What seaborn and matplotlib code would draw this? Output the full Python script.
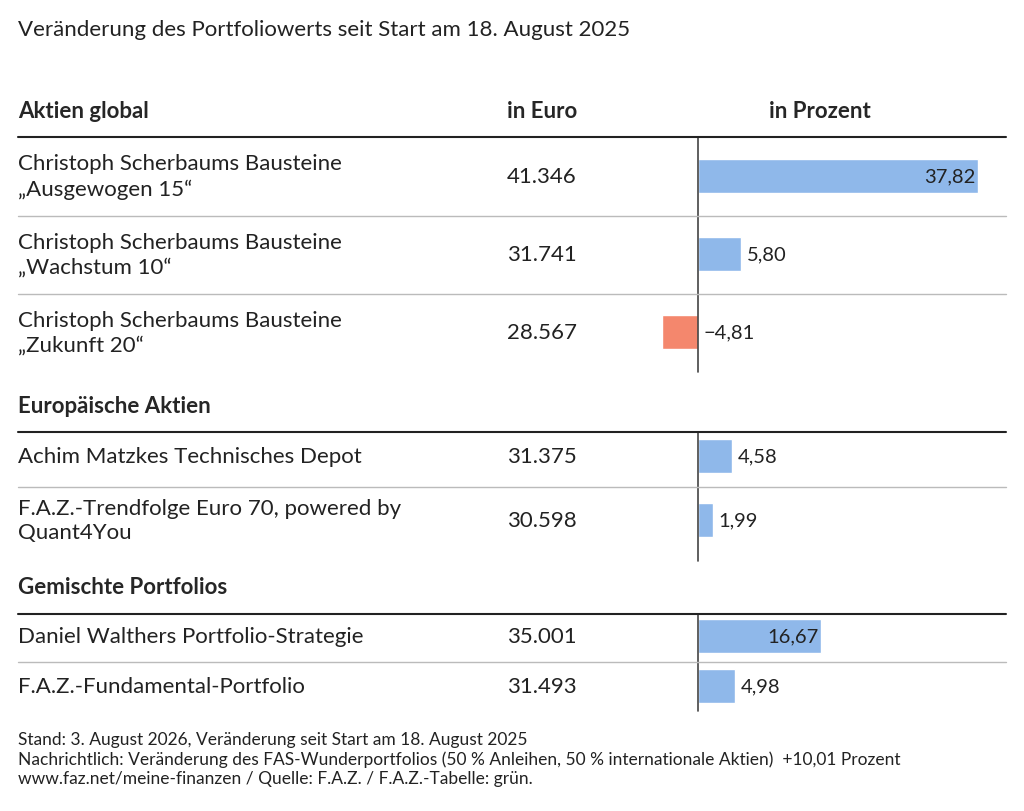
import numpy as np
import pandas as pd
import seaborn as sns
import matplotlib.pyplot as plt

sns.set_theme(style="white")
plt.rcParams['font.family'] = ['Lato', 'DejaVu Sans']

W, H = 1024, 812

# data
groups = ["Aktien global", "Europäische Aktien", "Gemischte Portfolios"]
names = ["Christoph Scherbaums Bausteine\n„Ausgewogen 15“",
         "Christoph Scherbaums Bausteine\n„Wachstum 10“",
         "Christoph Scherbaums Bausteine\n„Zukunft 20“",
         "Achim Matzkes Technisches Depot",
         "F.A.Z.-Trendfolge Euro 70, powered by\nQuant4You",
         "Daniel Walthers Portfolio-Strategie",
         "F.A.Z.-Fundamental-Portfolio"]
euro = ["41.346", "31.741", "28.567", "31.375", "30.598", "35.001", "31.493"]
pct = [37.82, 5.80, -4.81, 4.58, 1.99, 16.67, 4.98]

# layout (pixels)
row_y = [177, 255, 333, 457, 521, 637, 687]
group_y = [111, 407, 588]
group_line = [138, 433, 615]
sep_lines = [217, 295, 488, 663]
zero_x, unit = 698, 7.404
ax_l, ax_r = 640, 1006

fig = plt.figure(figsize=(W / 100, H / 100), dpi=100)

def fx(x): return x / W
def fy(y): return 1 - y / H

ax = fig.add_axes([fx(ax_l), fy(720), fx(ax_r - ax_l), (720 - 100) / H])
ax.set_xlim((ax_l - zero_x) / unit, (ax_r - zero_x) / unit)
ax.set_ylim(720, 100)
df = pd.DataFrame({"y": row_y, "v": pct,
                   "sign": ["neg" if v < 0 else "pos" for v in pct]})
sns.barplot(df, x="v", y="y", hue="sign", orient="h", native_scale=True,
            palette={"pos": "#8fb8ea", "neg": "#f4876d"}, width=0.68,
            legend=False, ax=ax, saturation=1)
ax.set_axis_off()
for y, v in zip(row_y, pct):
    lab = f"{v:.2f}".replace(".", ",").replace("-", "−")
    if v > 10:
        ax.text(v - 0.4, y, lab, ha="right", va="center", fontsize=14.5, color="#222222")
    else:
        ax.text(max(v, 0) + 0.8, y, lab, ha="left", va="center", fontsize=14.5, color="#222222")
# zero lines per group
spans = [(138, 373), (433, 562), (615, 712)]
for a, b in spans:
    ax.plot([0, 0], [a, b], color="#444444", lw=1.2)

fig.text(fx(18), fy(30), "Veränderung des Portfoliowerts seit Start am 18. August 2025",
         fontsize=16, va="center", color="#222222")
fig.text(fx(507), fy(group_y[0]), "in Euro", fontsize=16, fontweight="bold", va="center")
fig.text(fx(820), fy(group_y[0]), "in Prozent", fontsize=16, fontweight="bold", va="center", ha="center")
for g, y in zip(groups, group_y):
    fig.text(fx(18), fy(y), g, fontsize=16, fontweight="bold", va="center")
for y in group_line:
    fig.add_artist(plt.Line2D([fx(18), fx(1006)], [fy(y), fy(y)], color="#222222", lw=1.5))
for y in sep_lines:
    fig.add_artist(plt.Line2D([fx(18), fx(1006)], [fy(y), fy(y)], color="#bbbbbb", lw=1))
for n, e, y in zip(names, euro, row_y):
    fig.text(fx(18), fy(y), n, fontsize=16, va="center", linespacing=1.3, color="#222222")
    fig.text(fx(507), fy(y), e, fontsize=16, va="center", color="#222222")

foot = ("Stand: 3. August 2026, Veränderung seit Start am 18. August 2025\n"
        "Nachrichtlich: Veränderung des FAS-Wunderportfolios (50 % Anleihen, 50 % internationale Aktien)  +10,01 Prozent\n"
        "www.faz.net/meine-finanzen / Quelle: F.A.Z. / F.A.Z.-Tabelle: grün.")
fig.text(fx(18), fy(732), foot, fontsize=12.5, va="top", linespacing=1.25, color="#222222")

fig.savefig("out.png", dpi=100, facecolor="white")
